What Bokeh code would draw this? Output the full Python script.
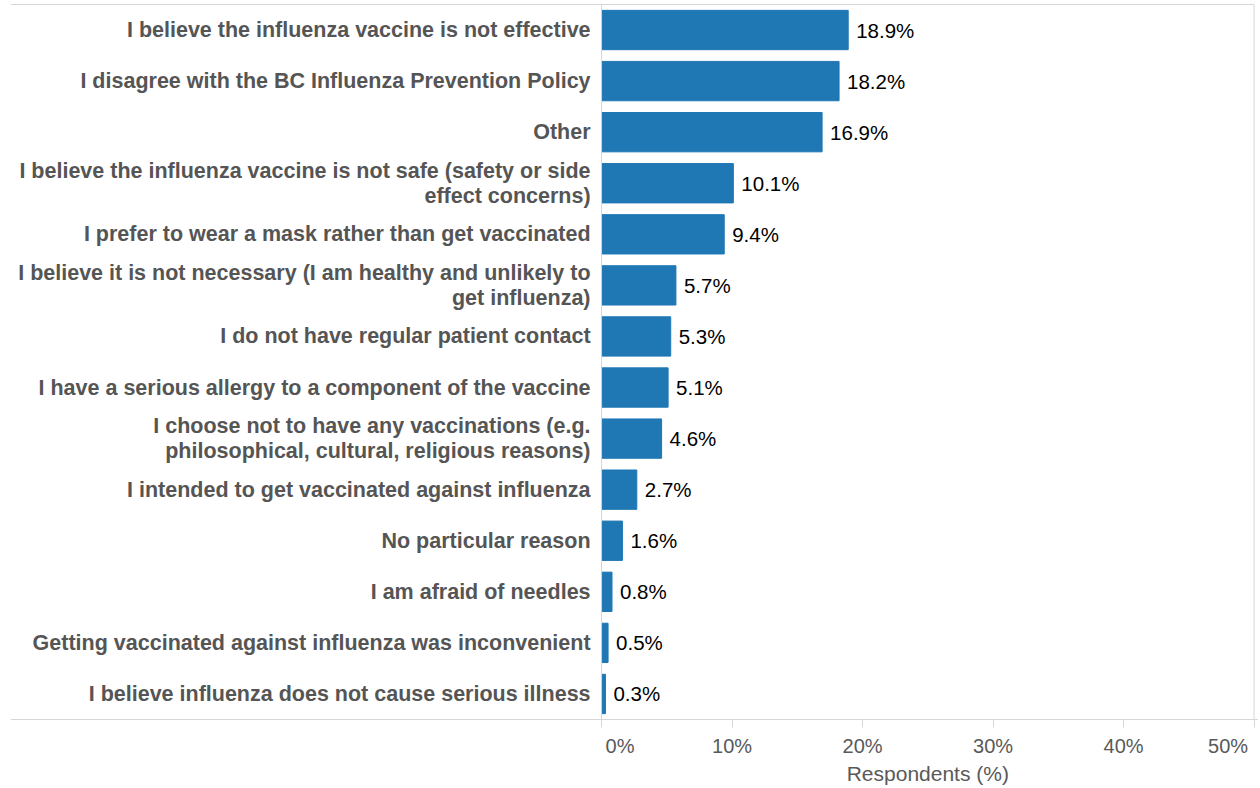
from bokeh.plotting import figure
from bokeh.models import Range1d, Label, FixedTicker, ColumnDataSource
from bokeh.core.properties import value
from bokeh.embed import file_html
from bokeh.resources import INLINE

categories = [
    "I believe the influenza vaccine is not effective",
    "I disagree with the BC Influenza Prevention Policy",
    "Other",
    "I believe the influenza vaccine is not safe (safety or side\neffect concerns)",
    "I prefer to wear a mask rather than get vaccinated",
    "I believe it is not necessary (I am healthy and unlikely to\nget influenza)",
    "I do not have regular patient contact",
    "I have a serious allergy to a component of the vaccine",
    "I choose not to have any vaccinations (e.g.\nphilosophical, cultural, religious reasons)",
    "I intended to get vaccinated against influenza",
    "No particular reason",
    "I am afraid of needles",
    "Getting vaccinated against influenza was inconvenient",
    "I believe influenza does not cause serious illness",
]
values = [18.9, 18.2, 16.9, 10.1, 9.4, 5.7, 5.3, 5.1, 4.6, 2.7, 1.6, 0.8, 0.5, 0.3]
tick_values = [0, 10, 20, 30, 40, 50]
tick_labels = ["0%", "10%", "20%", "30%", "40%", "50%"]
x_title = "Respondents (%)"

FONT_NAME = "Liberation Sans"
FONT = value(FONT_NAME)
GRID = "#d6d6d6"
LABEL_GRAY = "#555555"
TICK_GRAY = "#595959"

n = len(categories)
ypos = [n - 1 - i for i in range(n)]  # first category at the top
src = ColumnDataSource(dict(
    y=ypos,
    cat=categories,
    val=values,
    lbl=[f"{v}%" for v in values],
))

y_bottom = -0.5          # lower edge of the last band
y_top = n - 0.5          # upper edge of the first band
x_max = tick_values[-1]

p = figure(
    width=1258, height=788,
    x_range=Range1d(-45.29, 50.34),
    y_range=Range1d(-1.851, y_top + 0.078),
    output_backend="svg", toolbar_location=None,
    min_border_left=10, min_border_right=0, min_border_top=0, min_border_bottom=0,
)
p.outline_line_color = None
p.xgrid.visible = False
p.ygrid.visible = False
p.yaxis.visible = False

p.hbar(y="y", left=0, right="val", height=0.77, color="#1f77b4", source=src)

p.text(x=0, y="y", text="cat", x_offset=-11, text_align="right", text_baseline="middle",
       text_font=FONT, text_font_style="bold", text_font_size="21.5px", text_color=LABEL_GRAY,
       text_line_height=1.04, source=src)

p.text(x="val", y="y", text="lbl", x_offset=8, text_align="left", text_baseline="middle",
       text_font=FONT, text_font_size="20.5px", text_color="#000000", source=src)

# frame lines: top, y-axis line at 0, right border at 50%
p.segment(x0=[p.x_range.start, 0, x_max], y0=[y_top, y_bottom, y_bottom],
          x1=[x_max, 0, x_max], y1=[y_top, y_top, y_top], line_color=GRID, line_width=1)

ax = p.xaxis[0]
ax.fixed_location = y_bottom
ax.ticker = FixedTicker(ticks=tick_values)
ax.minor_tick_line_color = None
ax.axis_line_color = GRID
ax.major_tick_line_color = GRID
ax.major_tick_out = 8
ax.major_tick_in = 0
overrides = {t: l for t, l in zip(tick_values, tick_labels)}
overrides[tick_values[0]] = ""
overrides[tick_values[-1]] = ""
ax.major_label_overrides = overrides
ax.major_label_text_font = FONT_NAME
ax.major_label_text_font_size = "20px"
ax.major_label_text_color = TICK_GRAY
ax.major_label_standoff = 7

tick_y = y_bottom - 0.51
p.add_layout(Label(x=tick_values[0], y=tick_y, x_offset=4, text=tick_labels[0], text_align="left",
                   text_baseline="middle", text_font=FONT_NAME, text_font_size="20px", text_color=TICK_GRAY))
p.add_layout(Label(x=tick_values[-1], y=tick_y, x_offset=-6, text=tick_labels[-1], text_align="right",
                   text_baseline="middle", text_font=FONT_NAME, text_font_size="20px", text_color=TICK_GRAY))
p.add_layout(Label(x=(tick_values[0] + tick_values[-1]) / 2, y=y_bottom - 1.06, text=x_title,
                   text_align="center", text_baseline="middle", text_font=FONT_NAME,
                   text_font_size="21px", text_color=TICK_GRAY))

open("out.html", "w").write(file_html(p, INLINE))
